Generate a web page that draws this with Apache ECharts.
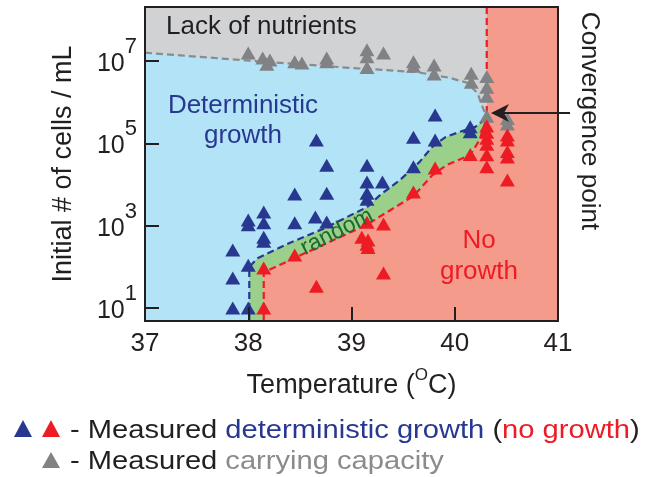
<!DOCTYPE html>
<html>
<head>
<meta charset="utf-8">
<script src="https://cdn.jsdelivr.net/npm/echarts@6/dist/echarts.min.js"></script>
<style>
  html, body { margin: 0; padding: 0; background: #ffffff; }
  #chart { width: 660px; height: 477px; }
</style>
</head>
<body>
<div id="chart"></div>
<script>
// Phase diagram: temperature vs. initial cell density (log10 cells / mL)
const FONT = '"Liberation Sans", Arial, Helvetica, sans-serif';
const INK = '#231f20';

const xTicks = [37, 38, 39, 40, 41];
const yTickExponents = [1, 3, 5, 7];
const yMin = 0.685;
const yMax = 8.31;

// Point where the three boundaries meet: [°C, log10 cells/mL]
const convergence = [40.31, 5.62];

// Measured outcomes: [temperature °C, log10(initial cells / mL)]
const growthPoints = [
  [37.85, 1.00], [38.00, 1.00], [37.85, 1.73], [38.00, 2.04], [37.85, 2.41],
  [38.15, 2.62], [38.15, 2.72], [38.00, 3.02], [38.00, 3.14], [38.15, 3.07], [38.15, 3.33],
  [38.45, 3.07], [38.65, 3.21], [38.76, 3.09], [38.45, 3.77], [38.76, 3.79], [38.76, 4.47],
  [38.66, 5.08], [39.15, 3.64], [39.15, 3.79], [39.15, 4.06], [39.30, 4.06], [39.15, 4.47],
  [39.60, 4.43], [39.60, 5.15], [39.81, 5.08], [39.81, 5.69], [40.15, 5.28], [40.15, 5.40]
];
const noGrowthPoints = [
  [38.15, 1.00], [38.15, 1.97], [38.45, 2.29], [38.66, 1.53], [39.31, 1.85],
  [39.10, 2.72], [39.16, 2.65], [39.15, 2.55], [39.16, 2.47], [39.15, 3.08], [39.31, 3.04],
  [39.60, 3.82], [39.81, 4.40], [40.15, 4.73],
  [40.31, 4.43], [40.31, 4.72], [40.31, 4.98], [40.31, 5.12], [40.31, 5.27], [40.31, 5.42],
  [40.51, 4.11], [40.51, 4.67], [40.51, 4.80], [40.51, 5.08], [40.51, 5.20]
];
const capacityPoints = [
  [38.00, 7.19], [38.14, 7.07], [38.21, 7.02], [38.18, 6.92], [38.45, 6.98], [38.52, 6.95],
  [38.76, 7.07], [38.76, 6.98], [39.15, 7.27], [39.15, 7.10], [39.15, 6.84], [39.31, 7.19],
  [39.60, 6.98], [39.60, 6.87], [39.80, 6.90], [39.80, 6.68], [40.16, 6.70], [40.16, 6.48],
  [40.31, 6.62], [40.31, 6.36], [40.31, 6.14], [40.31, 5.66], [40.51, 5.60], [40.51, 5.47]
];

// Phase boundaries
const capacityBoundary = [
  [37.00, 7.20], [38.00, 7.01], [39.00, 6.83], [39.63, 6.73], [39.95, 6.59],
  [40.12, 6.47], [40.22, 6.22], [40.27, 5.88], convergence
];
const growthBoundary = [
  [38.01, yMin], [38.01, 2.00], [38.09, 2.21], [38.40, 2.58], [38.74, 2.94], [39.15, 3.45],
  [39.28, 3.75], [39.47, 4.11], [39.66, 4.55], [39.78, 4.91], [39.91, 5.15], [40.05, 5.28],
  [40.20, 5.40], convergence
];
const noGrowthBoundary = [
  [38.15, yMin], [38.15, 1.87], [38.24, 1.97], [38.47, 2.24], [38.72, 2.53], [39.15, 3.02],
  [39.28, 3.23], [39.60, 3.72], [39.78, 4.22], [39.92, 4.47], [40.15, 4.72], [40.24, 5.08],
  convergence
];
const temperatureLimit = [[convergence[0], yMax], convergence];

const COLORS = {
  growthRegion: '#b3e3f7',
  capacityRegion: '#d1d2d4',
  noGrowthRegion: '#f49b8c',
  randomRegion: '#9bd08b',
  growthMark: '#283891',
  noGrowthMark: '#ed1c24',
  capacityMark: '#808285',
  capacityLine: '#8a8b8e',
  capacityText: '#8a8b8e',
  randomText: '#1b6b2e'
};

// Region outlines assembled from the boundaries
const capacityRegion = [[37, yMax], [convergence[0], yMax]].concat(capacityBoundary.slice().reverse());
const noGrowthRegion = [[convergence[0], yMax], [41, yMax], [41, yMin]].concat(noGrowthBoundary);
const randomRegion = growthBoundary.concat(noGrowthBoundary.slice().reverse());

function regionSeries(points, color) {
  return {
    type: 'custom',
    coordinateSystem: 'cartesian2d',
    silent: true,
    z: 1,
    data: [[37, yMin]],
    renderItem: function (params, api) {
      return {
        type: 'polygon',
        shape: { points: points.map(function (p) { return api.coord(p); }) },
        style: { fill: color }
      };
    }
  };
}

function boundarySeries(points, color) {
  return {
    type: 'line',
    silent: true,
    z: 3,
    data: points,
    symbol: 'none',
    lineStyle: { color: color, width: 2.2, type: [7, 4] },
    animation: false
  };
}

function markSeries(points, color, z) {
  return {
    type: 'scatter',
    silent: true,
    z: z,
    data: points,
    symbol: 'triangle',
    symbolSize: [15, 13],
    itemStyle: { color: color, opacity: 1 }
  };
}

const axisLineStyle = { color: INK, width: 2 };

function keyStyle(color) {
  return { fontSize: 26, fontFamily: FONT, fill: color, color: color };
}
const keyRich = {
  k: keyStyle(INK),
  b: keyStyle(COLORS.growthMark),
  r: keyStyle(COLORS.noGrowthMark),
  g: keyStyle(COLORS.capacityText)
};

const option = {
  animation: false,
  backgroundColor: '#ffffff',
  grid: {
    left: 145, top: 7, width: 413, height: 314,
    show: true, backgroundColor: COLORS.growthRegion, borderWidth: 0
  },
  xAxis: [{
    type: 'value', min: 37, max: 41, interval: 1, z: 10,
    axisLine: { show: true, lineStyle: axisLineStyle },
    axisTick: { show: true, inside: true, length: 14, lineStyle: axisLineStyle },
    axisLabel: { margin: 10, fontSize: 26, fontFamily: FONT, color: INK,
      formatter: function (v) { return xTicks.indexOf(v) >= 0 ? String(v) : ''; } },
    splitLine: { show: false },
    name: '{t|Temperature (}{s|O}{t|C)}',
    nameLocation: 'middle', nameGap: 46,
    nameTextStyle: {
      rich: {
        t: { fontSize: 27, fontFamily: FONT, color: INK },
        s: { fontSize: 17, fontFamily: FONT, color: INK, padding: [0, 0, 20, 0] }
      }
    }
  }, {
    type: 'value', min: 37, max: 41, position: 'top', z: 10,
    axisLine: { show: true, onZero: false, lineStyle: axisLineStyle },
    axisTick: { show: false }, axisLabel: { show: false }, splitLine: { show: false }
  }],
  yAxis: [{
    type: 'value', min: yMin, max: yMax, z: 10,
    axisLine: { show: true, onZero: false, lineStyle: axisLineStyle },
    axisTick: { show: true, inside: true, length: 14, lineStyle: axisLineStyle,
      customValues: yTickExponents },
    axisLabel: {
      margin: 8, customValues: yTickExponents,
      formatter: function (v) { return '{b|10}{s|' + Math.round(v) + '}'; },
      rich: {
        b: { fontSize: 25, fontFamily: FONT, color: INK, padding: [6, 0, 0, 0] },
        s: { fontSize: 22, fontFamily: FONT, color: INK, padding: [0, 0, 28, 0] }
      }
    },
    splitLine: { show: false },
    name: 'Initial # of cells / mL',
    nameLocation: 'middle', nameGap: 68,
    nameTextStyle: { fontSize: 27, fontFamily: FONT, color: INK }
  }, {
    type: 'value', min: yMin, max: yMax, position: 'right', z: 10,
    axisLine: { show: true, onZero: false, lineStyle: axisLineStyle },
    axisTick: { show: false }, axisLabel: { show: false }, splitLine: { show: false }
  }],
  series: [
    regionSeries(capacityRegion, COLORS.capacityRegion),
    regionSeries(noGrowthRegion, COLORS.noGrowthRegion),
    regionSeries(randomRegion, COLORS.randomRegion),
    boundarySeries(capacityBoundary, COLORS.capacityLine),
    boundarySeries(growthBoundary, COLORS.growthMark),
    boundarySeries(noGrowthBoundary, COLORS.noGrowthMark),
    boundarySeries(temperatureLimit, COLORS.noGrowthMark),
    markSeries(capacityPoints, COLORS.capacityMark, 4),
    markSeries(growthPoints, COLORS.growthMark, 5),
    markSeries(noGrowthPoints, COLORS.noGrowthMark, 6)
  ],
  graphic: [
    { type: 'text', x: 166, y: 27, z: 20, silent: true,
      style: { text: 'Lack of nutrients', fontSize: 26, fontFamily: FONT, fill: INK,
        align: 'left', verticalAlign: 'middle' } },
    { type: 'text', x: 243, y: 121, z: 20, silent: true,
      style: { text: 'Deterministic\ngrowth', fontSize: 26, fontFamily: FONT, lineHeight: 30,
        fill: COLORS.growthMark, align: 'center', verticalAlign: 'middle' } },
    { type: 'text', x: 479, y: 256, z: 20, silent: true,
      style: { text: 'No\ngrowth', fontSize: 26, fontFamily: FONT, lineHeight: 31,
        fill: COLORS.noGrowthMark, align: 'center', verticalAlign: 'middle' } },
    { type: 'text', x: 337, y: 232, z: 20, rotation: 0.47, silent: true,
      style: { text: 'random', fontSize: 23, fontFamily: FONT,
        fill: COLORS.randomText, align: 'center', verticalAlign: 'middle' } },
    { type: 'text', x: 589, y: 121, z: 20, rotation: -Math.PI / 2, silent: true,
      style: { text: 'Convergence point', fontSize: 26, fontFamily: FONT, fill: INK,
        align: 'center', verticalAlign: 'middle' } },
    // arrow pointing at the convergence point
    { type: 'line', z: 20, silent: true,
      shape: { x1: 570, y1: 113, x2: 500, y2: 113 },
      style: { stroke: INK, lineWidth: 2 } },
    { type: 'polygon', z: 20, silent: true,
      shape: { points: [[491, 113], [509, 104], [504, 113], [509, 122]] },
      style: { fill: INK } },
    // key
    { type: 'polygon', silent: true,
      shape: { points: [[23, 420], [32, 437], [14, 437]] }, style: { fill: COLORS.growthMark } },
    { type: 'polygon', silent: true,
      shape: { points: [[51, 420], [60, 437], [42, 437]] }, style: { fill: COLORS.noGrowthMark } },
    { type: 'polygon', silent: true,
      shape: { points: [[51, 452], [60, 468], [42, 468]] }, style: { fill: COLORS.capacityMark } },
    { type: 'text', x: 70, y: 431, scaleX: 1.12, silent: true,
      style: {
        text: '{k|- Measured }{b|deterministic growth}{k| (}{r|no growth}{k|)}',
        align: 'left', verticalAlign: 'middle', rich: keyRich
      } },
    { type: 'text', x: 70, y: 462, scaleX: 1.12, silent: true,
      style: {
        text: '{k|- Measured }{g|carrying capacity}',
        align: 'left', verticalAlign: 'middle', rich: keyRich
      } }
  ]
};

const chart = echarts.init(document.getElementById('chart'), null, { renderer: 'canvas' });
chart.setOption(option);
</script>
</body>
</html>
